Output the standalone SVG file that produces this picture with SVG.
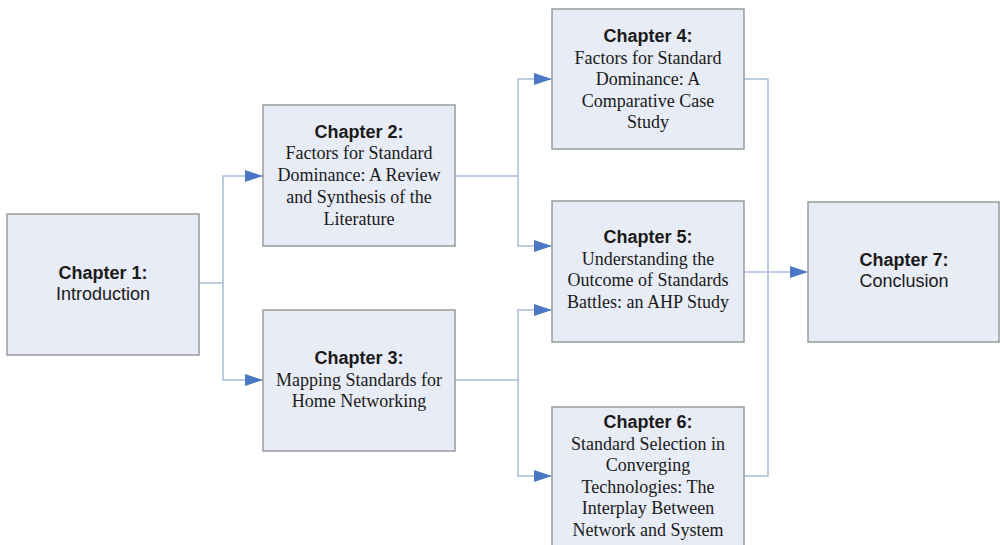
<svg xmlns="http://www.w3.org/2000/svg" width="1000" height="545" viewBox="0 0 1000 545">
<style>
.box{fill:#e8ecf6;stroke:#9a9a9a;stroke-width:1.5}
.h{font-family:"Liberation Sans",Arial,sans-serif;font-weight:bold;font-size:18px;fill:#1a1a1a;text-anchor:middle}
.s{font-family:"Liberation Sans",Arial,sans-serif;font-size:18px;fill:#1a1a1a;text-anchor:middle}
.t{font-family:"Liberation Serif","Times New Roman",serif;font-size:18px;fill:#1a1a1a;text-anchor:middle}
.c{fill:none;stroke:#a9bcd9;stroke-width:1.5}
</style>
<defs>
<marker id="arr" markerUnits="userSpaceOnUse" markerWidth="18" markerHeight="12" refX="18" refY="6" orient="auto">
<path d="M0,0 L18,6 L0,12 z" fill="#4a78c2"/>
</marker>
</defs>
<rect width="1000" height="545" fill="#ffffff"/>
<g id="connectors">
<path class="c" d="M199,283 H223 V176 H263" marker-end="url(#arr)"/>
<path class="c" d="M223,283 V380 H263" marker-end="url(#arr)"/>
<path class="c" d="M455,176 H518 V79 H552" marker-end="url(#arr)"/>
<path class="c" d="M518,176 V246 H552" marker-end="url(#arr)"/>
<path class="c" d="M455,380 H518 V310 H552" marker-end="url(#arr)"/>
<path class="c" d="M518,380 V476 H552" marker-end="url(#arr)"/>
<path class="c" d="M744,79 H768 V476 H744"/>
<path class="c" d="M744,272 H808" marker-end="url(#arr)"/>
</g>
<g id="ch1">
<rect class="box" x="7" y="214" width="192" height="141"/>
<text class="h" x="103" y="279">Chapter 1:</text>
<text class="s" x="103" y="300">Introduction</text>
</g>
<g id="ch2">
<rect class="box" x="263" y="105" width="192" height="141"/>
<text class="h" x="359" y="137.5">Chapter 2:</text>
<text class="t" x="359" y="159.3">Factors for Standard</text>
<text class="t" x="359" y="181.1">Dominance: A Review</text>
<text class="t" x="359" y="202.9">and Synthesis of the</text>
<text class="t" x="359" y="224.7">Literature</text>
</g>
<g id="ch3">
<rect class="box" x="263" y="310" width="192" height="141"/>
<text class="h" x="359" y="364">Chapter 3:</text>
<text class="t" x="359" y="385.5">Mapping Standards for</text>
<text class="t" x="359" y="407">Home Networking</text>
</g>
<g id="ch4">
<rect class="box" x="552" y="9" width="192" height="140"/>
<text class="h" x="648" y="42">Chapter 4:</text>
<text class="t" x="648" y="63.5">Factors for Standard</text>
<text class="t" x="648" y="85">Dominance: A</text>
<text class="t" x="648" y="106.5">Comparative Case</text>
<text class="t" x="648" y="128">Study</text>
</g>
<g id="ch5">
<rect class="box" x="552" y="201" width="192" height="141"/>
<text class="h" x="648" y="243">Chapter 5:</text>
<text class="t" x="648" y="264.5">Understanding the</text>
<text class="t" x="648" y="286">Outcome of Standards</text>
<text class="t" x="648" y="307.5">Battles: an AHP Study</text>
</g>
<g id="ch6">
<rect class="box" x="552" y="407" width="192" height="160"/>
<text class="h" x="648" y="428">Chapter 6:</text>
<text class="t" x="648" y="449.5">Standard Selection in</text>
<text class="t" x="648" y="471">Converging</text>
<text class="t" x="648" y="492.5">Technologies: The</text>
<text class="t" x="648" y="514">Interplay Between</text>
<text class="t" x="648" y="535.5">Network and System</text>
</g>
<g id="ch7">
<rect class="box" x="808" y="202" width="191" height="140"/>
<text class="h" x="904" y="266">Chapter 7:</text>
<text class="s" x="904" y="287">Conclusion</text>
</g>
</svg>
